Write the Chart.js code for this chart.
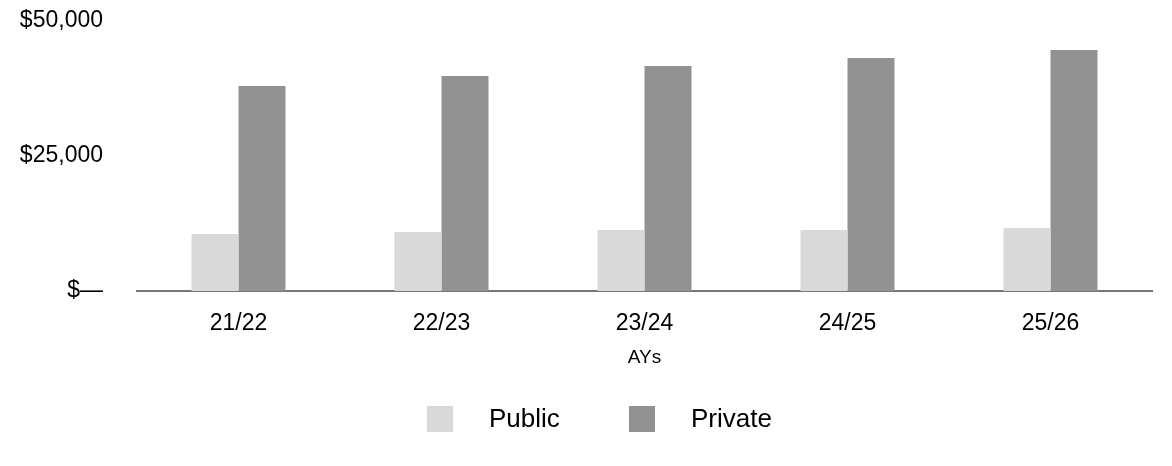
<!DOCTYPE html>
<html>
<head>
<meta charset="utf-8">
<script src="https://cdn.jsdelivr.net/npm/chart.js@4"></script>
<style>
  html, body { margin: 0; padding: 0; background: #ffffff; }
  #wrap { width: 1172px; height: 466px; position: relative; }
</style>
</head>
<body>
<div id="wrap"><canvas id="c" width="1172" height="466"></canvas></div>
<script>
const categories = ["21/22", "22/23", "23/24", "24/25", "25/26"];
const publicValues = [10550, 10930, 11300, 11300, 11670];
const privateValues = [37960, 39820, 41670, 43150, 44630];
const yTicks = [0, 25000, 50000];
const seriesNames = ["Public", "Private"];
const seriesColors = ["#d9d9d9", "#929292"];

const FONT = "'Liberation Sans', Arial, Helvetica, sans-serif";

const bottomLegend = {
  id: "bottomLegend",
  afterDraw(chart) {
    const ctx = chart.ctx;
    ctx.save();
    ctx.font = "26px " + FONT;
    ctx.textBaseline = "middle";
    ctx.textAlign = "left";
    const cy = 419;
    let x = 427;
    chart.data.datasets.forEach((ds, i) => {
      ctx.fillStyle = ds.backgroundColor;
      ctx.fillRect(x, cy - 13, 26, 26);
      ctx.fillStyle = "#000000";
      ctx.fillText(ds.label, x + 62, cy + 1);
      x += 202;
    });
    ctx.restore();
  }
};

new Chart(document.getElementById("c"), {
  type: "bar",
  data: {
    labels: categories,
    datasets: [
      { label: seriesNames[0], data: publicValues, backgroundColor: seriesColors[0] },
      { label: seriesNames[1], data: privateValues, backgroundColor: seriesColors[1] }
    ]
  },
  options: {
    responsive: false,
    animation: false,
    devicePixelRatio: 1,
    datasets: { bar: { barPercentage: 1.0, categoryPercentage: 0.463, borderWidth: 0 } },
    layout: { padding: { left: 0, right: 20, top: 0, bottom: 97 } },
    plugins: {
      legend: { display: false },
      tooltip: { enabled: false },
      title: { display: false }
    },
    scales: {
      x: {
        grid: { display: false },
        border: { display: true, color: "#777777", width: 2 },
        ticks: { color: "#000000", font: { family: FONT, size: 23 }, padding: 11, maxRotation: 0 },
        title: { display: true, text: "AYs", color: "#000000", font: { family: FONT, size: 19 }, padding: { top: 0, bottom: 0 } },
        afterFit(scale) { scale.height = 78; }
      },
      y: {
        min: 0,
        max: 50000,
        afterBuildTicks(scale) { scale.ticks = yTicks.map(v => ({ value: v })); },
        afterFit(scale) {
          scale.width = 137;
          scale.paddingTop = 21;
          scale.paddingBottom = 0;
        },
        grid: { display: false },
        border: { display: false },
        ticks: {
          color: "#000000",
          font: { family: FONT, size: 23 },
          padding: 26,
          callback: v => v === 0 ? "$\u2014" : "$" + Number(v).toLocaleString("en-US")
        }
      }
    }
  },
  plugins: [bottomLegend]
});
</script>
</body>
</html>
